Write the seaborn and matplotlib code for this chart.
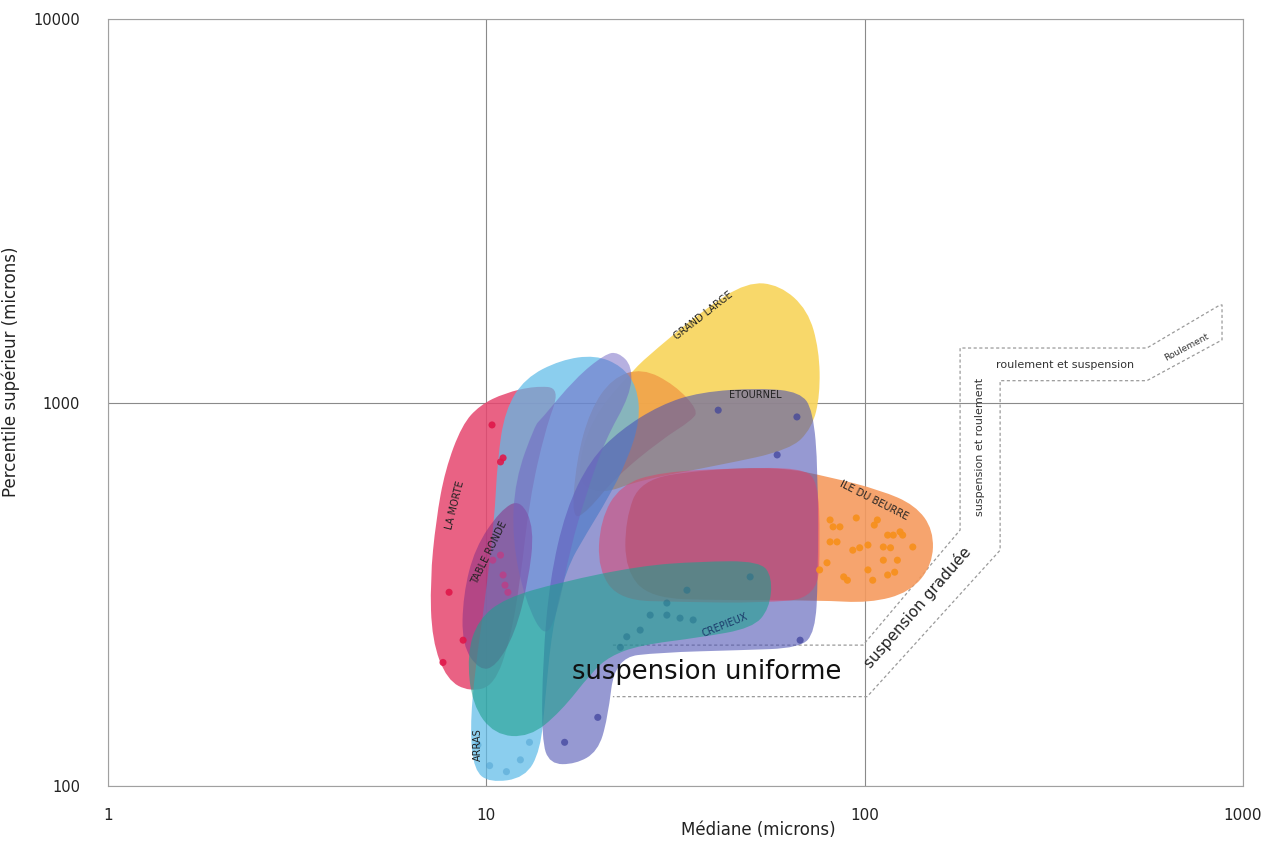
import numpy as np
import pandas as pd
import matplotlib
matplotlib.use("Agg")
import matplotlib.pyplot as plt
import seaborn as sns
from matplotlib.path import Path
from matplotlib.patches import PathPatch

sns.set_style("white")
plt.rcParams['font.family'] = ['DejaVu Sans']

# --- outlines of each site cloud: (median, upper percentile) in microns ---
grand_large = [(17.2, 628), (18.8, 900), (24.4, 1216), (27.9, 1370), (37.4, 1742), (48.9, 2063),
               (59.7, 2025), (70.8, 1742), (75.8, 1370), (76.2, 1046), (72.6, 858), (63.5, 752),
               (41.5, 687), (25.5, 628), (20.0, 574)]
orange_lobe = [(16.8, 494), (17.3, 708), (18.8, 955), (21.5, 1158), (25.8, 1230), (31.5, 1111),
               (36.3, 955), (35.0, 900), (29.0, 800), (22.0, 640), (18.5, 520)]
la_morte = [(7.18, 240), (7.10, 344), (7.36, 494), (7.78, 667), (8.62, 874), (9.62, 985),
            (11.2, 1059), (13.45, 1104), (15.7, 1091), (14.3, 848), (13.0, 557), (12.3, 344),
            (11.55, 240), (10.5, 183), (9.05, 176), (7.87, 189)]
arras = [(11.2, 955), (12.65, 1158), (15.7, 1291), (19.4, 1330), (22.8, 1245), (25.0, 1100),
         (25.5, 900), (23.5, 700), (20.9, 560), (18.5, 460), (16.2, 366), (14.9, 255),
         (14.3, 168), (13.9, 124), (12.65, 105), (10.2, 102), (9.28, 110), (9.05, 140),
         (9.33, 201), (9.92, 305), (10.5, 494), (10.7, 708)]
ile_du_beurre = [(23.3, 494), (25.5, 628), (36.7, 667), (59.7, 679), (81.0, 639), (110, 591),
                 (136, 540), (152, 465), (151, 377), (131.7, 320), (103, 300), (76.2, 305),
                 (41.5, 305), (27.1, 309), (23.3, 366)]
table_ronde = [(8.62, 233), (8.68, 315), (9.33, 418), (10.9, 524), (12.3, 560), (13.4, 470),
               (12.9, 340), (11.9, 250), (10.6, 205), (9.6, 200)]
red_lobe = [(20.0, 494), (22.6, 609), (28.8, 659), (46.8, 675), (67.5, 675), (75.3, 628),
            (76.2, 438), (75.3, 309), (52.9, 300), (32.5, 302), (22.6, 305), (19.7, 366)]
etournel = [(22.6, 848), (28.8, 985), (36.7, 1065), (52.9, 1091), (67.5, 1065), (73.0, 955),
            (75.3, 667), (75.3, 344), (73.9, 252), (67.5, 229), (46.8, 226), (28.8, 223),
            (21.9, 216), (20.9, 149), (19.7, 123), (17.2, 114), (14.7, 114), (14.0, 132),
            (14.1, 213), (14.7, 344), (16.2, 524), (18.8, 708)]
violet_band = [(13.9, 900), (17.2, 1158), (20.6, 1338), (22.3, 1354), (24.3, 1245), (24.0, 1046),
               (20.6, 798), (18.5, 591), (16.6, 412), (15.5, 288), (14.3, 240), (12.65, 305),
               (11.7, 438), (11.9, 628), (13.45, 874)]
crepieux = [(8.89, 220), (9.5, 271), (11.2, 309), (15.7, 340), (25.5, 375), (36.7, 385),
            (52.9, 386), (57.0, 350), (56.0, 290), (50.5, 258), (36.7, 244), (25.5, 233),
            (21.2, 218), (19.0, 198), (15.7, 156), (13.0, 134), (10.5, 136), (9.17, 163)]

# --- measured samples ---
la_morte_x = [10.35, 10.9, 11.07, 7.97, 8.68, 7.68]
la_morte_y = [874, 700, 717, 320, 240, 210]
table_ronde_x = [10.4, 10.9, 11.2, 11.4, 11.07]
table_ronde_y = [388, 400, 334, 320, 355]
beurre_x = [81, 82.5, 86, 95, 108, 106, 124, 119, 115, 126, 81, 84.5, 97, 102, 112, 117, 134,
            79.5, 93, 102, 112, 122, 115, 88, 90, 105, 120, 76]
beurre_y = [494, 474, 474, 500, 494, 479, 460, 451, 451, 451, 433, 433, 418, 425, 420, 418, 420,
            382, 412, 366, 388, 388, 355, 351, 344, 344, 361, 366]
etournel_x = [16.1, 19.7, 67.5, 41, 66.2, 58.7]
etournel_y = [130, 151, 240, 955, 917, 730]
crepieux_x = [30.0, 32.5, 35.2, 27.1, 25.5, 23.5, 22.6, 49.8, 33.9, 30.0]
crepieux_y = [279, 274, 271, 279, 255, 245, 230, 351, 324, 300]
arras_x = [9.5, 10.2, 11.3, 13.0, 12.3]
arras_y = [128, 113, 109, 130, 117]

# --- Passega transport zones (dashed outline) ---
zone_x = [21.6, 99, 178.7, 178.7, 557, 869, 880, 880, 557, 228, 228, 101.5, 21.6]
zone_y = [233, 233, 465, 1387, 1387, 1796, 1796, 1456, 1140, 1140, 412, 171, 171]


def smooth_blob(ax, pts, color, alpha, z):
    p = np.log10(np.array(pts, dtype=float))
    mids = (p + np.roll(p, -1, axis=0)) / 2
    verts = [mids[-1]]
    codes = [Path.MOVETO]
    for i in range(len(p)):
        verts += [p[i], mids[i]]
        codes += [Path.CURVE3, Path.CURVE3]
    verts = 10 ** np.array(verts)
    ax.add_patch(PathPatch(Path(verts, codes), facecolor=color, edgecolor='none',
                           alpha=alpha, zorder=z))


fig = plt.figure(figsize=(12.77, 8.41), dpi=100)
ax = fig.add_axes([0.0846, 0.0654, 0.8888, 0.912])
ax.set_xscale('log')
ax.set_yscale('log')

# zones drawn under the clouds
ax.plot(zone_x, zone_y, color='#9a9a9a', lw=0.9, ls=(0, (2.5, 2)), zorder=1)

smooth_blob(ax, grand_large, '#f8d45a', 0.9, 2)
smooth_blob(ax, orange_lobe, '#f0a048', 0.85, 3)
smooth_blob(ax, la_morte, '#e6466f', 0.85, 4)
smooth_blob(ax, arras, '#5fbbe8', 0.72, 5)
smooth_blob(ax, ile_du_beurre, '#f59a5e', 0.9, 6)
smooth_blob(ax, table_ronde, '#8a2f86', 0.55, 7)
smooth_blob(ax, etournel, '#4a50b2', 0.58, 8)
smooth_blob(ax, red_lobe, '#e0406a', 0.5, 9)
smooth_blob(ax, violet_band, '#6f62c2', 0.5, 10)
smooth_blob(ax, crepieux, '#1fa08e', 0.6, 11)

groups = [
    (la_morte_x, la_morte_y, '#e0174a', 0.9),
    (table_ronde_x, table_ronde_y, '#d0307a', 0.6),
    (beurre_x, beurre_y, '#f7901e', 0.95),
    (etournel_x, etournel_y, '#3b3f9a', 0.7),
    (crepieux_x, crepieux_y, '#1f6f8a', 0.5),
    (arras_x, arras_y, '#4a9fd0', 0.5),
]
for gx, gy, c, a in groups:
    sns.scatterplot(x=gx, y=gy, color=c, alpha=a, s=26, edgecolor='none',
                    legend=False, ax=ax, zorder=12)

# site names
lab = dict(fontsize=7, color='#222222', zorder=13, ha='center', va='center')
ax.text(8.27, 540, 'LA MORTE', rotation=76, **lab)
ax.text(10.2, 405, 'TABLE RONDE', rotation=64, **lab)
ax.text(9.5, 128, 'ARRAS', rotation=90, **lab)
ax.text(37.4, 1681, 'GRAND LARGE', rotation=38, **lab)
ax.text(51.3, 1046, 'ETOURNEL', rotation=0, **lab)
ax.text(106, 557, 'ILE DU BEURRE', rotation=-27, **lab)
ax.text(42.8, 263, 'CREPIEUX', rotation=22, fontsize=7, color='#1a3a6a', zorder=13,
        ha='center', va='center')

# zone names
ax.text(38.3, 198, 'suspension uniforme', fontsize=18.5, color='#111111', zorder=13,
        ha='center', va='center')
ax.text(138, 292, 'suspension graduée', fontsize=11, rotation=49, color='#222222',
        ha='center', va='center')
ax.text(202, 766, 'suspension et roulement', fontsize=8, rotation=90, color='#333333',
        ha='center', va='center')
ax.text(338, 1252, 'roulement et suspension', fontsize=8, color='#333333',
        ha='center', va='center')
ax.text(711, 1396, 'Roulement', fontsize=6.5, rotation=28, color='#333333',
        ha='center', va='center')

ax.set_xlim(1, 1000)
ax.set_ylim(100, 10000)
ax.set_xticks([1, 10, 100, 1000])
ax.set_xticklabels(['1', '10', '100', '1000'])
ax.set_yticks([100, 1000, 10000])
ax.set_yticklabels(['100', '1000', '10000'])
ax.minorticks_off()
ax.tick_params(axis='x', length=0, pad=16, labelsize=11, labelcolor='#222222')
ax.tick_params(axis='y', length=0, pad=20, labelsize=10.5, labelcolor='#222222')
ax.grid(True, which='major', color='#8a8a8a', lw=0.8, zorder=0)
ax.set_axisbelow(True)
for s in ax.spines.values():
    s.set_color('#a0a0a0')
    s.set_linewidth(0.8)

ax.set_xlabel('Médiane (microns)', fontsize=12, color='#222222', labelpad=0)
ax.set_ylabel('Percentile supérieur (microns)', fontsize=12, color='#222222', labelpad=2)
ax.xaxis.set_label_coords(0.573, -0.045)
ax.yaxis.set_label_coords(-0.078, 0.54)

fig.savefig('out.png', dpi=100)
